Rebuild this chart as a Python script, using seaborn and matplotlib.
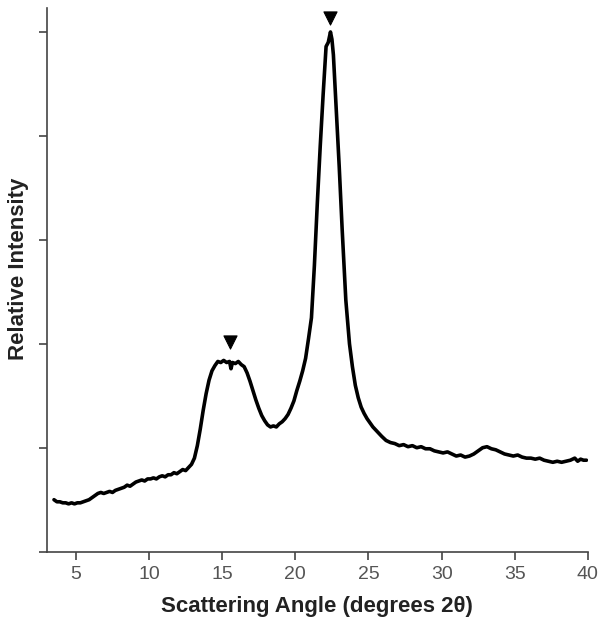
import numpy as np
import pandas as pd
import matplotlib
matplotlib.use("Agg")
import matplotlib.pyplot as plt
import seaborn as sns

# XRD trace: (degrees 2-theta, relative intensity)
trace = [
    (3.5, 0.50), (3.7, 0.48), (3.9, 0.48), (4.1, 0.47), (4.3, 0.47), (4.5, 0.46),
    (4.7, 0.47), (4.9, 0.46), (5.1, 0.47), (5.3, 0.47), (5.5, 0.48), (5.7, 0.49),
    (5.9, 0.50), (6.1, 0.52), (6.3, 0.54), (6.5, 0.56), (6.7, 0.57), (6.9, 0.56),
    (7.1, 0.57), (7.3, 0.58), (7.5, 0.57), (7.7, 0.59), (7.9, 0.60), (8.1, 0.61),
    (8.3, 0.62), (8.5, 0.64), (8.7, 0.63), (8.9, 0.65), (9.1, 0.67), (9.3, 0.68),
    (9.5, 0.69), (9.7, 0.68), (9.9, 0.70), (10.1, 0.70), (10.3, 0.71), (10.5, 0.70),
    (10.7, 0.72), (10.9, 0.73), (11.1, 0.72), (11.3, 0.74), (11.5, 0.74), (11.7, 0.76),
    (11.9, 0.75), (12.1, 0.77), (12.3, 0.79), (12.5, 0.78), (12.7, 0.81), (12.9, 0.84),
    (13.1, 0.90), (13.3, 1.02), (13.5, 1.18), (13.7, 1.36), (13.9, 1.52), (14.1, 1.65),
    (14.3, 1.74), (14.5, 1.79), (14.7, 1.83), (14.9, 1.82), (15.1, 1.84), (15.3, 1.82),
    (15.5, 1.83), (15.6, 1.76), (15.7, 1.82), (15.9, 1.81), (16.1, 1.83), (16.3, 1.80),
    (16.5, 1.78), (16.7, 1.72), (16.9, 1.64), (17.1, 1.55), (17.3, 1.46), (17.5, 1.38),
    (17.7, 1.31), (17.9, 1.26), (18.1, 1.22), (18.3, 1.20), (18.5, 1.21), (18.7, 1.20),
    (18.9, 1.23), (19.1, 1.25), (19.3, 1.28), (19.5, 1.32), (19.7, 1.38), (19.9, 1.45),
    (20.1, 1.55), (20.3, 1.64), (20.5, 1.74), (20.7, 1.86), (20.9, 2.05), (21.1, 2.25),
    (21.3, 2.75), (21.5, 3.35), (21.7, 3.90), (21.9, 4.40), (22.1, 4.86), (22.25, 4.90),
    (22.4, 5.00), (22.5, 4.93), (22.6, 4.78), (22.8, 4.25), (23.0, 3.70), (23.2, 3.10),
    (23.45, 2.42), (23.7, 2.00), (23.9, 1.78), (24.1, 1.60), (24.3, 1.48), (24.5, 1.39),
    (24.7, 1.33), (24.9, 1.28), (25.1, 1.24), (25.3, 1.20), (25.5, 1.17), (25.7, 1.14),
    (25.9, 1.11), (26.2, 1.07), (26.5, 1.05), (26.8, 1.04), (27.1, 1.02), (27.4, 1.03),
    (27.7, 1.01), (28.0, 1.02), (28.3, 1.00), (28.6, 1.01), (28.9, 0.99), (29.2, 0.99),
    (29.5, 0.97), (29.8, 0.96), (30.1, 0.95), (30.4, 0.96), (30.7, 0.94), (31.0, 0.92),
    (31.3, 0.93), (31.6, 0.91), (31.9, 0.92), (32.2, 0.94), (32.5, 0.97), (32.8, 1.00),
    (33.1, 1.01), (33.4, 0.99), (33.7, 0.98), (34.0, 0.96), (34.3, 0.94), (34.6, 0.93),
    (34.9, 0.92), (35.2, 0.93), (35.5, 0.91), (35.8, 0.90), (36.1, 0.90), (36.4, 0.89),
    (36.7, 0.90), (37.0, 0.88), (37.3, 0.87), (37.6, 0.86), (37.9, 0.87), (38.2, 0.86),
    (38.5, 0.87), (38.8, 0.88), (39.1, 0.90), (39.3, 0.87), (39.5, 0.89), (39.7, 0.88),
    (39.9, 0.88),
]
two_theta = [t for t, _ in trace]
intensity = [i for _, i in trace]

# peak markers
peak_x = [15.5, 22.35]
peak_y = [2.02, 5.13]

x_ticks = [5, 10, 15, 20, 25, 30, 35, 40]
y_ticks = [0, 1, 2, 3, 4, 5]

df = pd.DataFrame({"angle": two_theta, "intensity": intensity})
peaks = pd.DataFrame({"angle": peak_x, "intensity": peak_y})

sns.set_style("ticks")
plt.rcParams["font.family"] = ["Liberation Sans", "DejaVu Sans"]

fig = plt.figure(figsize=(6.03, 6.24), dpi=100)
ax = fig.add_axes([0.0774, 0.1159, 0.8976, 0.8712])

sns.lineplot(data=df, x="angle", y="intensity", color="black", linewidth=2.6, ax=ax)
sns.scatterplot(data=peaks, x="angle", y="intensity", marker="v", color="black",
                s=90, edgecolor="black", ax=ax)

ax.set_xlim(3.0, 40.0)
ax.set_ylim(0, 5.23)
ax.set_xticks(x_ticks)
ax.set_yticks(y_ticks)
ax.set_yticklabels([])
ax.tick_params(axis="x", direction="out", length=6, width=1.2, colors="#444444",
               labelsize=14, labelcolor="#555555", pad=4)
ax.tick_params(axis="y", direction="out", length=6, width=1.2, colors="#444444")

for side in ["top", "right"]:
    ax.spines[side].set_visible(False)
for side in ["left", "bottom"]:
    ax.spines[side].set_color("#444444")
    ax.spines[side].set_linewidth(1.2)

ax.set_xlabel("Scattering Angle (degrees 2θ)", fontsize=16, fontweight="bold",
              color="#222222", labelpad=10)
ax.set_ylabel("Relative Intensity", fontsize=16, fontweight="bold", color="#222222")
ax.yaxis.set_label_coords(-0.033, 0.52)

plt.savefig("out.png", dpi=100)
